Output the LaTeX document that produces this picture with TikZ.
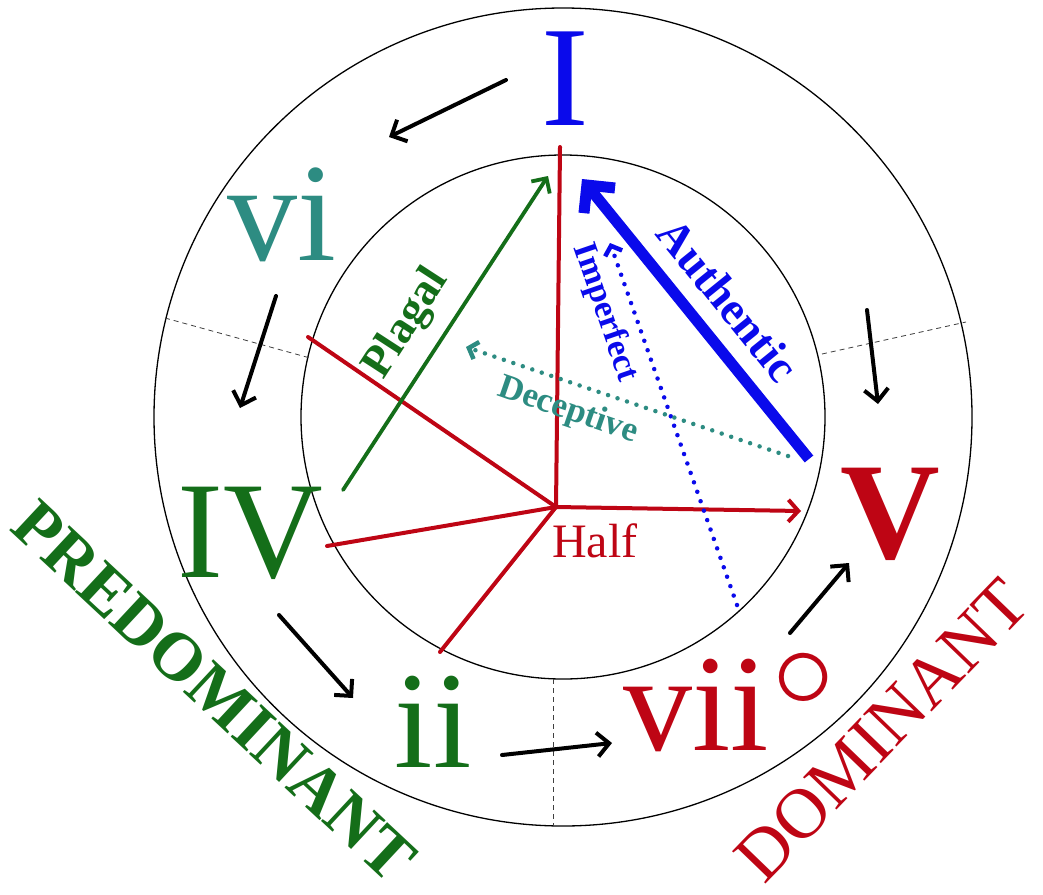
\documentclass[tikz,border=0pt]{standalone}
\usepackage{fontspec}
\usepackage{graphicx}
\setmainfont{Liberation Serif}
\usetikzlibrary{arrows.meta}
\definecolor{myblue}{RGB}{10,10,235}
\definecolor{myred}{RGB}{190,5,20}
\definecolor{mygreen}{RGB}{20,110,25}
\definecolor{myteal}{RGB}{45,140,130}
\tikzset{
  ring/.style={draw=black, line width=1.3pt},
  sep/.style={draw=black!75, line width=0.8pt, dash pattern=on 5pt off 4pt},
  flow/.style={draw=black, line width=4pt, line cap=round, -{Straight Barb[length=12pt,width=24pt]}},
  redline/.style={draw=myred, line width=4pt, line cap=round},
  dots/.style={line width=4.5pt, line cap=round, dash pattern=on 0pt off 10pt, -{Straight Barb[length=8pt,width=18pt]}},
  numeral/.style={inner sep=0pt, anchor=base},
  lab/.style={inner sep=0pt, font=\bfseries\fontsize{#1}{#1}\selectfont},
}
\begin{document}
\begin{tikzpicture}[x=1pt,y=-1pt]
\useasboundingbox (0,0) rectangle (1043,894);
\fill[white] (0,0) rectangle (1043,894);
\coordinate (O) at (563,417);
\draw[ring] (O) circle[radius=409pt];
\draw[ring] (O) circle[radius=262pt];
% sector separators
\coordinate (s1a) at (165,318); \coordinate (s1b) at (310,358);
\coordinate (s2a) at (822,354); \coordinate (s2b) at (966,322);
\coordinate (s3a) at (553,679); \coordinate (s3b) at (553,826);
\draw[sep] (s1a) -- (s1b);
\draw[sep] (s2a) -- (s2b);
\draw[sep] (s3a) -- (s3b);

% chord numerals
\node[numeral, text=myblue, font=\fontsize{143}{143}\selectfont] (I) at (565,125) {I};
\node[numeral, text=myteal, font=\fontsize{140}{140}\selectfont] (vi) at (282,260) {vi};
\node[numeral, text=mygreen, font=\fontsize{138}{138}\selectfont] (IV) at (250,577) {IV};
\node[numeral, text=mygreen, font=\fontsize{138}{138}\selectfont] (ii) at (433,767) {ii};
\node[numeral, anchor=base west, text=myred, font=\fontsize{138}{138}\selectfont] (vii) at (623,750)
  {vii\hspace{4pt}\raisebox{42pt}{\scalebox{5}{$\circ$}}};
\node[numeral, text=myred, font=\bfseries\fontsize{138}{138}\selectfont] (V) at (890,558) {V};

% function labels
\node[lab=68, text=mygreen, rotate=-43] (pd) at (214,691) {PREDOMINANT};
\node[inner sep=0pt, text=myred, font=\fontsize{71}{71}\selectfont, rotate=46] (dom) at (882,730) {DOMINANT};

% circle-of-progression arrows
\coordinate (b1s) at (506,80);  \coordinate (b1e) at (389,137);
\coordinate (b2s) at (276,296); \coordinate (b2e) at (240,408);
\coordinate (b3s) at (279,615); \coordinate (b3e) at (353,698);
\coordinate (b4s) at (502,755); \coordinate (b4e) at (612,743);
\coordinate (b5s) at (790,633); \coordinate (b5e) at (849,563);
\coordinate (b6s) at (867,310); \coordinate (b6e) at (878,404);
\draw[flow] (b1s) -- (b1e);
\draw[flow] (b2s) -- (b2e);
\draw[flow] (b3s) -- (b3e);
\draw[flow] (b4s) -- (b4e);
\draw[flow] (b5s) -- (b5e);
\draw[flow] (b6s) -- (b6e);

% red half-cadence lines
\coordinate (C) at (556,507);
\coordinate (r1) at (560,147);
\coordinate (r2) at (308,337);
\coordinate (r3) at (327,546);
\coordinate (r4) at (440,652);
\coordinate (r5) at (801,511);
\draw[redline] (r1) -- (C);
\draw[redline] (r2) -- (C);
\draw[redline] (r3) -- (C);
\draw[redline] (r4) -- (C);
\draw[redline, -{Straight Barb[length=10pt,width=22pt]}] (C) -- (r5);
\node[inner sep=0pt, anchor=base west, text=myred, font=\fontsize{48}{48}\selectfont] (half) at (552,557) {Half};

% plagal
\coordinate (p0) at (343,490); \coordinate (p1) at (548,176);
\draw[draw=mygreen, line width=3.8pt, line cap=round, -{Straight Barb[length=11pt,width=22pt]}] (p0) -- (p1);
\node[lab=45, text=mygreen, rotate=57] (plagal) at (407,324) {Plagal};

% authentic
\coordinate (a0) at (809,459); \coordinate (a1) at (582,179);
\draw[draw=myblue, line width=11pt, -{Straight Barb[length=20pt,width=40pt]}] (a0) -- (a1);
\node[lab=46, text=myblue, rotate=-51] (auth) at (728,300) {Authentic};

% imperfect
\coordinate (i0) at (737,605); \coordinate (i1) at (610,243);
\draw[draw=myblue, dots] (i0) -- (i1);
\node[lab=34, text=myblue, rotate=-71] (imp) at (605,313) {Imperfect};

% deceptive
\coordinate (d0) at (788,456); \coordinate (d1) at (466,347);
\draw[draw=myteal, dots] (d0) -- (d1);
\node[lab=35, text=myteal, rotate=-19] (dec) at (568,411) {Deceptive};
\end{tikzpicture}
\end{document}
